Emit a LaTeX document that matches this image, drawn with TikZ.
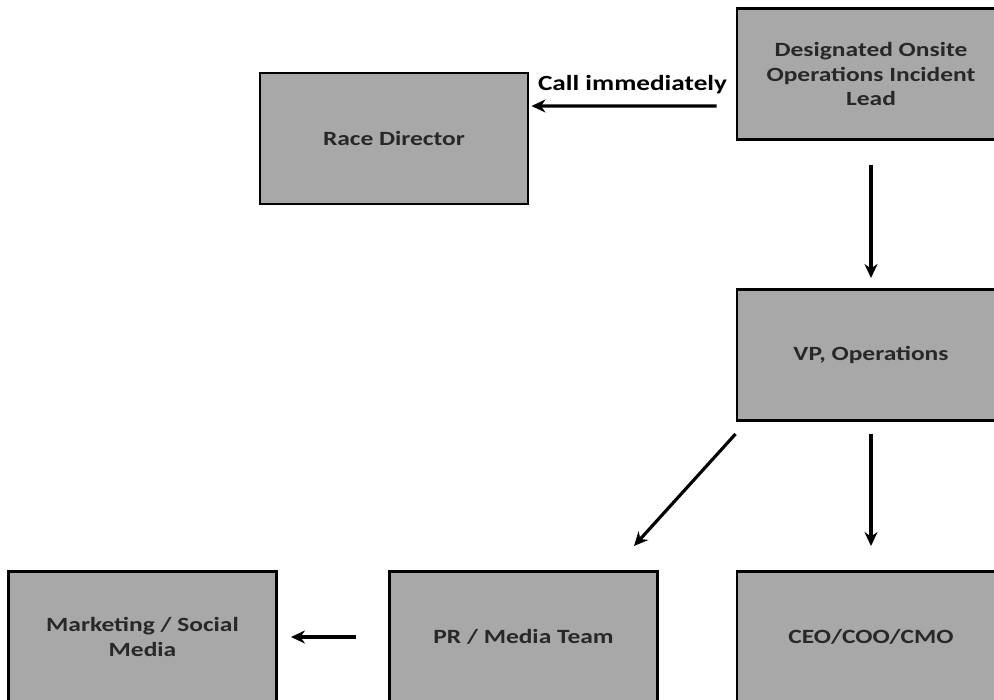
\documentclass[tikz,border=0pt]{standalone}
\usepackage{fontspec}
\setmainfont{Carlito}
\newfontfamily\rolefont{Carlito}[FakeStretch=1.26]
\usepackage{tikz}
\usetikzlibrary{arrows.meta,positioning}
\definecolor{boxgray}{RGB}{168,168,168}
\definecolor{txtgray}{RGB}{40,40,40}
\tikzset{
  rolebox/.style = {rectangle, draw=black, line width=1.7pt, fill=boxgray,
                    minimum width=5.36cm, minimum height=2.62cm, inner sep=2pt,
                    align=center, text=txtgray,
                    font=\rolefont\fontsize{11.5}{13.9}\selectfont\bfseries},
  esc/.style     = {-{Stealth[length=2.8mm,width=2.6mm]}, line width=1.8pt},
  esclab/.style  = {font=\rolefont\fontsize{12.3}{14}\selectfont\bfseries, text=black},
}
\begin{document}
\begin{tikzpicture}
  \useasboundingbox (0,0) rectangle (19.88,-14);
  \clip (0,0) rectangle (19.88,-14);
  \node[rolebox] (lead) at (17.42, -1.48) {Designated Onsite\\Operations Incident\\Lead};
  \node[rolebox] (race) at (7.88, -2.77) {Race Director};
  \node[rolebox] (vp)   at (17.42, -7.1)  {VP, Operations};
  \node[rolebox] (ceo)  at (17.42, -12.74) {CEO/COO/CMO};
  \node[rolebox] (pr)   at (10.47, -12.74) {PR / Media Team};
  \node[rolebox] (mkt)  at (2.85, -12.74) {Marketing / Social\\Media};
  % escalation chain
  \draw[esc, shorten <=0.38cm, shorten >=0.04cm] ([yshift=-0.64cm]lead.west) -- ([yshift=0.65cm]race.east)
    node[midway, above=0.1cm, esclab] {Call immediately};
  \draw[esc, shorten <=0.48cm, shorten >=0.2cm] (lead) -- (vp);
  \draw[esc, shorten <=0.24cm, shorten >=0.48cm] (vp) -- (ceo);
  \draw[esc] ([yshift=-0.24cm]vp.south west) -- ([xshift=-0.5cm,yshift=0.48cm]pr.north east);
  \draw[esc, shorten <=0.64cm, shorten >=0.26cm] (pr) -- (mkt);
\end{tikzpicture}
\end{document}
